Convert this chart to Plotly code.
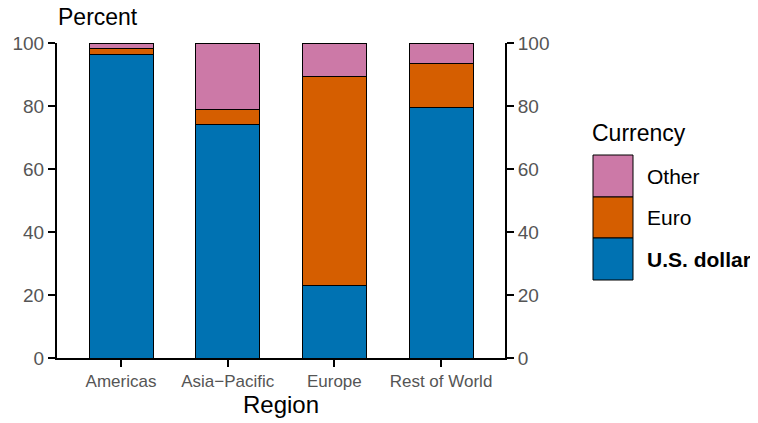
import plotly.graph_objects as go

regions = ["Americas", "Asia\u2212Pacific", "Europe", "Rest of World"]
usd = [96.3, 74.0, 23.0, 79.5]
euro = [1.8, 5.0, 66.3, 13.9]
other = [1.9, 21.0, 10.7, 6.6]
y_ticks = [0, 20, 40, 60, 80, 100]

currencies = [
    ("U.S. dollar", usd, "#0072B2"),
    ("Euro", euro, "#D55E00"),
    ("Other", other, "#CC79A7"),
]

FONT = "Liberation Sans, Arial"

fig = go.Figure()

for name, vals, color in currencies:
    fig.add_trace(go.Bar(
        x=regions, y=vals, name=name,
        marker=dict(color=color, line=dict(color="black", width=1)),
        width=0.6, showlegend=False,
    ))

# dummy trace so the right-hand axis is drawn
fig.add_trace(go.Scatter(
    x=regions, y=[None] * len(regions), yaxis="y2",
    mode="markers", showlegend=False, hoverinfo="skip",
))

axis_font = dict(family=FONT, size=19, color="#555555")
yaxis_common = dict(
    range=[0, 100], tickvals=y_ticks, showgrid=False, zeroline=False,
    showline=True, linecolor="black", linewidth=2,
    ticks="outside", ticklen=7, tickwidth=1.5, tickcolor="black",
    tickfont=axis_font, automargin=False,
)

# plot area in screen pixels (page has an 8px body margin)
PX0, PX1, PY0, PY1 = 57, 505, 43, 358


def px(x):
    return (x - PX0) / (PX1 - PX0)


def py(y):
    return (PY1 - y) / (PY1 - PY0)


# hand-made legend with large keys, like the original
key_rows = [("Other", "#CC79A7", 155, 197, False),
            ("Euro", "#D55E00", 197, 238, False),
            ("U.S. dollar", "#0072B2", 238, 280, True)]
for label, color, top, bot, bold in key_rows:
    fig.add_shape(
        type="rect", xref="paper", yref="paper",
        x0=px(593), x1=px(633), y0=py(bot), y1=py(top),
        fillcolor=color, line=dict(color="black", width=1),
    )
    fig.add_annotation(
        text=f"<b>{label}</b>" if bold else label,
        xref="paper", yref="paper",
        x=px(645), y=py((top + bot) / 2),
        xanchor="left", yanchor="middle", showarrow=False,
        font=dict(family=FONT, size=21, color="black"),
    )
fig.add_annotation(
    text="Currency", xref="paper", yref="paper",
    x=px(590), y=py(133),
    xanchor="left", yanchor="middle", showarrow=False,
    font=dict(family=FONT, size=23, color="black"),
)
fig.add_annotation(
    text="Percent", xref="paper", yref="paper",
    x=px(56), y=py(17),
    xanchor="left", yanchor="middle", showarrow=False,
    font=dict(family=FONT, size=23, color="black"),
)

fig.update_layout(
    barmode="stack",
    width=758, height=423,
    paper_bgcolor="white", plot_bgcolor="white",
    margin=dict(l=PX0 - 8, r=758 - PX1 + 8, t=PY0 - 8, b=423 - PY1 + 8,
                autoexpand=False),
    font=dict(family=FONT),
    xaxis=dict(
        range=[-0.6, 3.6], showgrid=False, zeroline=False,
        showline=True, linecolor="black", linewidth=2,
        ticks="outside", ticklen=7, tickwidth=1.5, tickcolor="black",
        tickfont=dict(family=FONT, size=17, color="#555555"),
        automargin=False,
        title=dict(text="Region", standoff=2,
                   font=dict(family=FONT, size=24, color="black")),
    ),
    yaxis=yaxis_common,
    yaxis2=dict(overlaying="y", side="right", **yaxis_common),
)

fig.write_html("out.html")
